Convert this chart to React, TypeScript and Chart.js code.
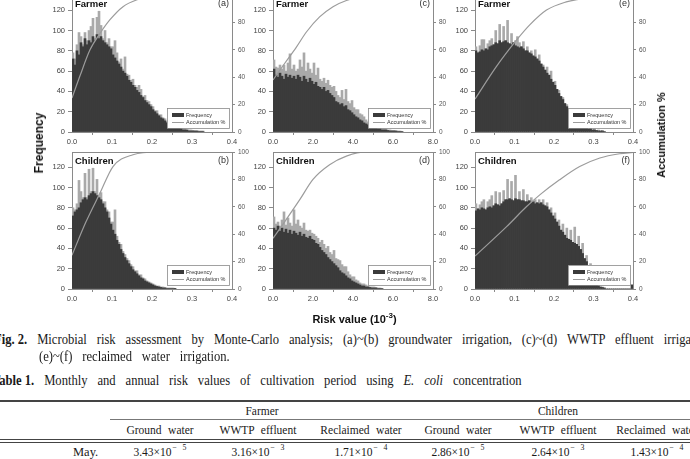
import React, { useEffect, useRef } from "react";
import { Chart, registerables } from "chart.js";

Chart.register(...registerables);

// ---------------- data ----------------
// bin widths (risk value, 10^-3)
const BIN_SMALL = 0.005;
const BIN_LARGE = 0.1;

// (a) Farmer – groundwater
const A_FREQ = [72,66, 80,76, 88,84, 92,86, 90,88, 94,90, 96,92, 94,90, 88,86, 84,82, 76,73, 70,67, 64,60, 58,55, 51,49, 46,44, 41,39, 36,34, 31,29, 27,25, 22,20, 18,16, 14,13, 11,9, 8,7, 6,5, 4,4, 3,2, 2,2, 1,1, 1,1, 1,0.5, 0.5,0.5];
const A_PEAK = [78,72, 86,98, 94,86, 98,90, 100,104, 112,92, 113,119, 105,92, 100,88, 92,84, 84,90, 78,69, 72,62, 74,57, 56,51, 52,46, 44,46, 42,35, 36,31, 30,27, 25,21, 21,17, 17,14, 13,10, 10,8, 8,6, 5,4, 4,3, 3,2, 2,2, 1.5,1, 1,1, 1,1];
const A_ACC_X = [0, 0.02, 0.045, 0.07, 0.095, 0.1275, 0.1625, 0.2, 0.25, 0.3, 0.4];
const A_ACC_Y = [24.8, 41, 60, 72, 82, 91.5, 96.5, 99, 99.8, 100, 100];

// (b) Children – groundwater
const B_FREQ = [72,76, 78,80, 85,88, 90,88, 92,94, 96,94, 92,90, 88,84, 80,76, 70,64, 58,54, 48,44, 39,35, 31,28, 25,22, 19,17, 15,13, 11,10, 8,7, 6,5, 4,3, 2.5,2, 1.5,1, 1,0.5, 0.5,0.5, 0.5,0.3];
const B_PEAK = [80,78, 84,107, 96,90, 114,90, 118,96, 119,96, 108,92, 95,86, 86,78, 76,66, 66,78, 52,46, 44,37, 34,30, 28,24, 22,18, 18,14, 14,11, 10,8, 7,6, 5,4, 3,3, 2,2, 1.5,1, 1,1, 1,0.5];
const B_ACC_X = [0, 0.035, 0.07, 0.1025, 0.1525, 0.2125, 0.3, 0.4];
const B_ACC_Y = [24.7, 49, 70, 89.4, 98, 100, 100, 100];

// (c) Farmer – WWTP effluent
const C_FREQ = [62,56,54,58,55,52,57,54,56,53, 55,52,56,54,50,55,52,49,53,50, 47,49,45,44,42,44,40,41,38,36, 34,30,29,27,28,25,26,22,21,19, 17,15,14,12,11,9,8,7,6,5, 4,4,3,3,2,2,2,1.5,1,1, 1,1,0.5,0.5,0.5];
const C_PEAK = [71,64,63,66,62,66,60,68,77,62, 66,60,62,71,64,78,60,68,62,58, 68,56,63,52,50,53,48,51,46,44, 45,40,36,34,41,32,42,30,28,31, 24,22,22,18,17,15,12,10,9,8, 7,5,5,4,3,3,3,2,2,1.5, 1.5,1,1,1,0.5];
const C_ACC_X = [0, 0.58, 1.17, 1.67, 2.33, 3.0, 3.67, 4.5, 5.5, 8.0];
const C_ACC_Y = [38, 50, 62, 73, 84, 91.5, 96, 99.2, 100, 100];

// (d) Children – WWTP effluent
const D_FREQ = [60,58,62,57,60,56,59,55,58,54, 57,55,53,56,52,54,51,50,52,49, 48,45,44,41,38,36,34,31,29,27, 25,23,21,18,16,15,13,11,10,8, 7,6,5,4,3,3,2,2,1.5,1, 1,1,0.5,0.5,0.5];
const D_PEAK = [71,64,66,62,68,76,63,70,65,62, 78,64,68,62,60,65,58,57,58,55, 54,52,50,46,48,44,40,42,36,34, 38,30,29,28,24,22,22,17,14,12, 12,9,8,6,5,5,4,3,2,2, 2,1.5,1,1,0.5];
const D_ACC_X = [0, 0.58, 1.33, 2.0, 2.83, 3.67, 4.67, 6.0, 8.0];
const D_ACC_Y = [37, 49, 65, 80, 90.7, 97, 100, 100, 100];

// (e) Farmer – reclaimed water
const E_FREQ = [80,78, 79,81, 80,82, 81,84, 85,86, 88,87, 90,88, 89,90, 88,87, 86,88, 85,84, 83,84, 82,80, 80,78, 77,75, 74,72, 70,67, 64,61, 58,56, 52,49, 46,42, 38,35, 32,28, 25,22, 19,16, 14,12, 10,8, 6,5, 4,3, 3,2, 2,1.5, 1,1, 1,0.5];
const E_PEAK = [84,78, 85,91, 91,82, 87,90, 92,86, 100,87, 106,88, 104,90, 110,87, 97,88, 90,94, 88,84, 89,80, 84,78, 80,75, 81,72, 76,67, 66,61, 64,56, 60,49, 50,42, 41,35, 34,28, 27,22, 22,16, 17,12, 12,8, 8,5, 5,3, 4,2, 3,1.5, 2,1, 1.5,0.5];
const E_ACC_X = [0, 0.054, 0.105, 0.138, 0.181, 0.231, 0.265, 0.3, 0.35, 0.4];
const E_ACC_Y = [24, 47.7, 67, 78, 89, 95, 97, 98.5, 99.6, 100];

// (f) Children – reclaimed water
const F_FREQ = [77,79, 78,80, 79,78, 80,81, 80,82, 84,83, 82,84, 86,88, 88,89, 88,87, 89,88, 88,87, 87,86, 86,87, 85,86, 84,85, 84,85, 83,82, 81,78, 75,72, 69,66, 62,58, 56,53, 50,49, 48,46, 45,44, 42,39, 35,30, 27,22, 18,13, 8,5, 3,2, 1.5,1, 0,0,0,0,0,0,0,0,0,0,0,0,0, 4];
const F_PEAK = [84,79, 83,86, 88,78, 86,88, 92,82, 96,83, 95,84, 97,88, 108,89, 106,87, 112,88, 96,87, 98,86, 93,87, 90,86, 88,85, 88,85, 88,82, 85,78, 80,72, 75,66, 68,58, 64,53, 60,49, 58,46, 61,44, 52,39, 45,30, 33,22, 25,13, 12,5, 5,2, 2,1, 0,0,0,0,0,0,0,0,0,0,0,0,0, 4];
const F_ACC_X = [0, 0.08, 0.13, 0.164, 0.214, 0.265, 0.316, 0.366, 0.4];
const F_ACC_Y = [24, 45.5, 60, 68.7, 79.7, 89.4, 95.6, 98.7, 99.7];

const FREQ_MAX = 135;
const FREQ_STEP = 20;
const ACC_MAX = 100;
const ACC_STEP = 20;

// ---------------- styling ----------------
const SANS = "'Liberation Sans', Arial, sans-serif";
const SERIF = "'Liberation Serif', 'Times New Roman', serif";
const AXIS_GRAY = "#8a8a8a";
const DARK_BAR = "#3b3b3b";
const LIGHT_BAR = "#a9a9a9";
const LINE_GRAY = "#9c9c9c";

const PAD_TOP = 10;
const Y_W = 30;
const Y2_W = 25;
const X_H = 20;

const decorPlugin = {
  id: "panelDecor",
  afterDraw(chart: any, _args: any, opts: any) {
    const { ctx, chartArea: a } = chart;
    ctx.save();
    ctx.strokeStyle = AXIS_GRAY;
    ctx.lineWidth = 1;
    const ty = Math.round(a.top) + 0.5;
    ctx.beginPath();
    ctx.moveTo(a.left, ty);
    ctx.lineTo(a.right, ty);
    ctx.stroke();
    ctx.fillStyle = "#111";
    ctx.textBaseline = "middle";
    ctx.textAlign = "left";
    ctx.font = `bold 9.5px ${SANS}`;
    ctx.fillText(opts.group, a.left + 3, a.top + 9);
    ctx.textAlign = "right";
    ctx.font = `9px ${SANS}`;
    ctx.fillStyle = "#333";
    ctx.fillText(opts.tag, a.right - 3, a.top + 9);
    const w = 62, h = 20;
    const bx = Math.round(a.right - 3 - w), by = Math.round(a.bottom - 4 - h);
    ctx.fillStyle = "#fff";
    ctx.fillRect(bx, by, w, h);
    ctx.strokeStyle = AXIS_GRAY;
    ctx.lineWidth = 0.8;
    ctx.strokeRect(bx + 0.5, by + 0.5, w, h);
    const ds = chart.data.datasets;
    const bar = ds.find((d: any) => d.label === "Frequency");
    const line = ds.find((d: any) => d.label === "Accumulation %");
    ctx.fillStyle = bar.backgroundColor;
    ctx.fillRect(bx + 5, by + 5, 12, 4);
    ctx.strokeStyle = line.borderColor;
    ctx.lineWidth = 1;
    ctx.beginPath();
    ctx.moveTo(bx + 5, by + 14.5);
    ctx.lineTo(bx + 17, by + 14.5);
    ctx.stroke();
    ctx.fillStyle = "#333";
    ctx.textAlign = "left";
    ctx.font = `5.5px ${SANS}`;
    ctx.fillText(bar.label, bx + 19, by + 7.5);
    ctx.fillText(line.label, bx + 19, by + 14.5);
    ctx.restore();
  },
};

type PanelProps = {
  left: number;
  top: number;
  plotW: number;
  plotH: number;
  bin: number;
  freq: number[];
  peak: number[];
  accX: number[];
  accY: number[];
  xMax: number;
  xStep: number;
  group: string;
  tag: string;
};

function Panel(p: PanelProps) {
  const ref = useRef<HTMLCanvasElement>(null);
  const W = Y_W + p.plotW + Y2_W;
  const H = PAD_TOP + p.plotH + X_H;

  useEffect(() => {
    const toBars = (vals: number[]) => vals.map((v, i) => ({ x: (i + 0.5) * p.bin, y: v }));
    const chart = new Chart(ref.current as HTMLCanvasElement, {
      type: "bar",
      data: {
        datasets: [
          {
            type: "line",
            label: "Accumulation %",
            data: p.accX.map((x, i) => ({ x, y: p.accY[i] })),
            yAxisID: "y2",
            borderColor: LINE_GRAY,
            borderWidth: 1.2,
            pointRadius: 0,
            fill: false,
            cubicInterpolationMode: "monotone",
          } as any,
          {
            type: "bar",
            label: "Frequency",
            data: toBars(p.freq),
            yAxisID: "y",
            backgroundColor: DARK_BAR,
            borderWidth: 0,
            grouped: false,
            barPercentage: 1,
            categoryPercentage: 1,
          } as any,
          {
            type: "bar",
            label: "peaks",
            data: toBars(p.peak),
            yAxisID: "y",
            backgroundColor: LIGHT_BAR,
            borderWidth: 0,
            grouped: false,
            barPercentage: 1,
            categoryPercentage: 1,
          } as any,
        ],
      },
      options: {
        responsive: false,
        animation: false,
        devicePixelRatio: 1,
        layout: { padding: { top: PAD_TOP, left: 0, right: 0, bottom: 0 } },
        plugins: {
          legend: { display: false },
          tooltip: { enabled: false },
          panelDecor: { group: p.group, tag: p.tag },
        } as any,
        scales: {
          x: {
            type: "linear",
            min: 0,
            max: p.xMax,
            offset: false,
            grid: { display: true, drawOnChartArea: false, drawTicks: true, tickLength: 3, color: AXIS_GRAY },
            border: { display: true, color: AXIS_GRAY, width: 1 },
            ticks: {
              stepSize: p.xStep,
              autoSkip: false,
              maxRotation: 0,
              padding: 2,
              color: "#444",
              font: { family: SANS, size: 7.5 },
              callback: (v: any) => Number(v).toFixed(1),
            },
            afterFit: (s: any) => { s.height = X_H; },
          } as any,
          y: {
            type: "linear",
            position: "left",
            min: 0,
            max: FREQ_MAX,
            grid: { display: true, drawOnChartArea: false, drawTicks: true, tickLength: 4, color: AXIS_GRAY },
            border: { display: true, color: AXIS_GRAY, width: 1 },
            ticks: {
              stepSize: FREQ_STEP,
              includeBounds: false,
              padding: 3,
              color: "#444",
              font: { family: SANS, size: 7.5 },
            },
            afterFit: (s: any) => { s.width = Y_W; },
          } as any,
          y2: {
            type: "linear",
            position: "right",
            min: 0,
            max: ACC_MAX,
            grid: { display: true, drawOnChartArea: false, drawTicks: true, tickLength: 3, color: AXIS_GRAY },
            border: { display: true, color: AXIS_GRAY, width: 1 },
            ticks: {
              stepSize: ACC_STEP,
              padding: 3,
              color: "#555",
              font: { family: SANS, size: 6.5 },
            },
            afterFit: (s: any) => { s.width = Y2_W; },
          } as any,
        },
      },
      plugins: [decorPlugin as any],
    });
    return () => chart.destroy();
  }, []);

  return (
    <canvas
      ref={ref}
      width={W}
      height={H}
      style={{ position: "absolute", left: p.left - Y_W, top: p.top - PAD_TOP, width: W, height: H }}
    />
  );
}

const abs = (s: React.CSSProperties): React.CSSProperties => ({ position: "absolute", whiteSpace: "nowrap", ...s });

const capStyle: React.CSSProperties = {
  fontFamily: SERIF,
  fontSize: 14,
  lineHeight: "14px",
  color: "#1a1a1a",
  transform: "scaleX(0.9)",
  transformOrigin: "0 0",
  wordSpacing: 7.5,
};

const TABLE_COLS = [160, 258, 361, 458, 558, 657];
const TABLE_SUB = ["Ground water", "WWTP effluent", "Reclaimed water", "Ground water", "WWTP effluent", "Reclaimed water"];
const MAY_MANT = ["3.43", "3.16", "1.71", "2.86", "2.64", "1.43"];
const MAY_EXP = ["5", "3", "4", "5", "3", "4"];

export default function App() {
  const tcell = (cx: number, top: number, content: React.ReactNode, key: string) => (
    <div
      key={key}
      style={abs({
        left: cx,
        top,
        fontFamily: SERIF,
        fontSize: 12.5,
        lineHeight: "12.5px",
        color: "#1a1a1a",
        wordSpacing: 4,
        transform: "translateX(-50%) scaleX(0.92)",
      })}
    >
      {content}
    </div>
  );

  return (
    <div style={{ position: "fixed", left: 0, top: 0, width: 690, height: 459, overflow: "hidden", background: "#fff" }}>
      <Panel left={72} top={-5} plotW={160} plotH={137} bin={BIN_SMALL} freq={A_FREQ} peak={A_PEAK} accX={A_ACC_X} accY={A_ACC_Y} xMax={0.4} xStep={0.1} group="Farmer" tag="(a)" />
      <Panel left={273} top={-5} plotW={160} plotH={137} bin={BIN_LARGE} freq={C_FREQ} peak={C_PEAK} accX={C_ACC_X} accY={C_ACC_Y} xMax={8} xStep={2} group="Farmer" tag="(c)" />
      <Panel left={475} top={-5} plotW={158} plotH={137} bin={BIN_SMALL} freq={E_FREQ} peak={E_PEAK} accX={E_ACC_X} accY={E_ACC_Y} xMax={0.4} xStep={0.1} group="Farmer" tag="(e)" />
      <Panel left={72} top={152} plotW={160} plotH={137} bin={BIN_SMALL} freq={B_FREQ} peak={B_PEAK} accX={B_ACC_X} accY={B_ACC_Y} xMax={0.4} xStep={0.1} group="Children" tag="(b)" />
      <Panel left={273} top={152} plotW={160} plotH={137} bin={BIN_LARGE} freq={D_FREQ} peak={D_PEAK} accX={D_ACC_X} accY={D_ACC_Y} xMax={8} xStep={2} group="Children" tag="(d)" />
      <Panel left={475} top={152} plotW={158} plotH={137} bin={BIN_SMALL} freq={F_FREQ} peak={F_PEAK} accX={F_ACC_X} accY={F_ACC_Y} xMax={0.4} xStep={0.1} group="Children" tag="(f)" />

      <div style={abs({ left: 39, top: 142.5, transform: "translate(-50%,-50%) rotate(-90deg)", fontFamily: SANS, fontWeight: "bold", fontSize: 12, color: "#111" })}>
        Frequency
      </div>
      <div style={abs({ left: 661, top: 135, transform: "translate(-50%,-50%) rotate(-90deg)", fontFamily: SANS, fontWeight: "bold", fontSize: 11, color: "#111" })}>
        Accumulation %
      </div>
      <div style={abs({ left: 354.5, top: 313.5, transform: "translateX(-50%)", fontFamily: SANS, fontWeight: "bold", fontSize: 11, lineHeight: "11px", color: "#111" })}>
        Risk value (10<sup style={{ fontSize: 8, lineHeight: 0 }}>-3</sup>)
      </div>

      <div style={abs({ left: -6, top: 333.3, ...capStyle })}>
        <b style={{ wordSpacing: 0 }}>Fig. 2.</b>{" "}
        Microbial risk assessment by Monte-Carlo analysis; (a)~(b) groundwater irrigation, (c)~(d) WWTP effluent irrigation,
      </div>
      <div style={abs({ left: 39, top: 350.3, ...capStyle })}>(e)~(f) reclaimed water irrigation.</div>

      <div style={abs({ left: -8, top: 374.3, ...capStyle })}>
        <b style={{ wordSpacing: 0 }}>Table 1.</b>{" "}
        Monthly and annual risk values of cultivation period using <i>E. coli</i> concentration
      </div>

      <div style={abs({ left: 0, top: 399.5, width: 690, height: 2, background: "#444" })} />
      <div style={abs({ left: 110, top: 419, width: 580, height: 1, background: "#777" })} />
      <div style={abs({ left: 0, top: 439, width: 690, height: 1, background: "#444" })} />
      <div style={abs({ left: 0, top: 442, width: 690, height: 1, background: "#444" })} />

      {tcell(262, 404.5, "Farmer", "hf")}
      {tcell(558, 404.5, "Children", "hc")}
      {TABLE_SUB.map((s, i) => tcell(TABLE_COLS[i], 423.5, s, "s" + i))}
      <div style={abs({ left: 73, top: 445.5, fontFamily: SERIF, fontSize: 12.5, lineHeight: "12.5px", color: "#1a1a1a" })}>May.</div>
      {MAY_MANT.map((m, i) =>
        tcell(
          TABLE_COLS[i],
          445.5,
          <span>
            {m}×10<sup style={{ fontSize: 8.5, lineHeight: 0, marginLeft: 1 }}>− {MAY_EXP[i]}</sup>
          </span>,
          "v" + i
        )
      )}
    </div>
  );
}
